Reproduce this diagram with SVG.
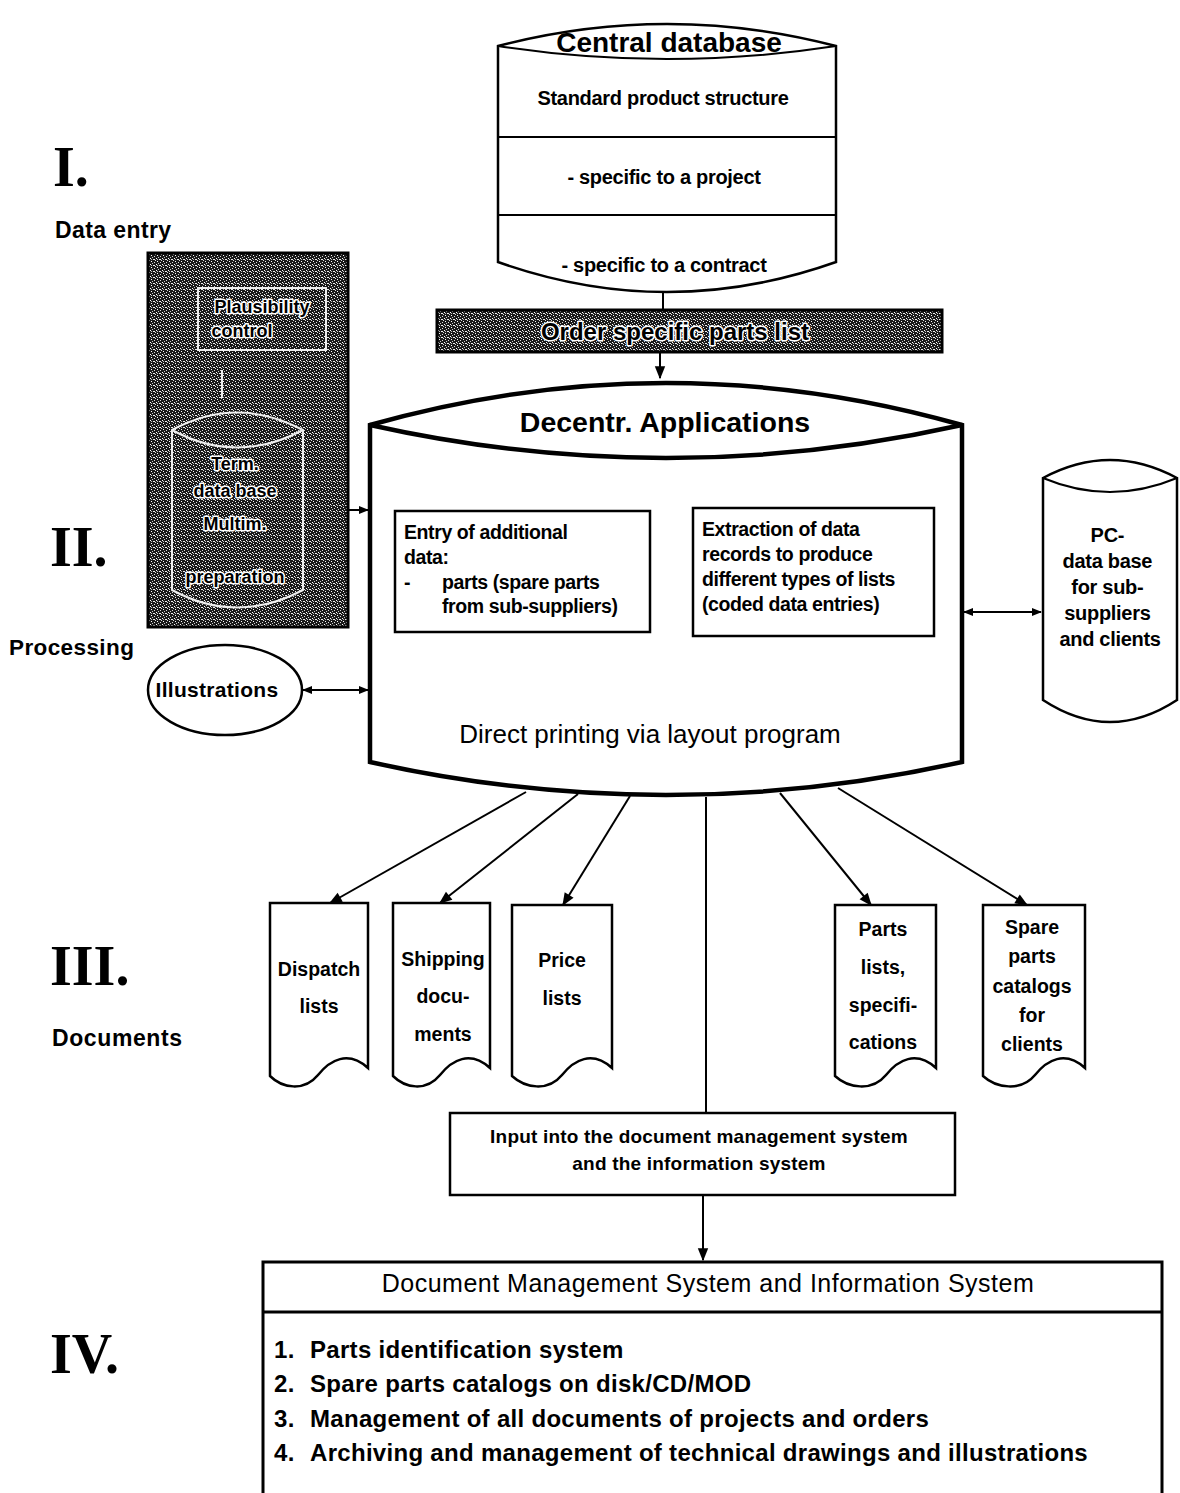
<svg xmlns="http://www.w3.org/2000/svg" width="1180" height="1493" viewBox="0 0 1180 1493">
  <style>
    .ln { fill: none; stroke: #000; stroke-width: 2; }
    .thick { fill: none; stroke: #000; stroke-width: 4.5; }
    .box { fill: #fff; stroke: #000; stroke-width: 2.5; }
    .t { font-family: "Liberation Sans", Arial, sans-serif; font-weight: bold; fill: #000; }
    .r { font-family: "Liberation Sans", Arial, sans-serif; fill: #000; }
    .c { text-anchor: middle; }
    .num { font-family: "Liberation Serif", "Times New Roman", serif; font-weight: bold; font-size: 56px; fill: #000; }
    .halo { paint-order: stroke; stroke: #fff; stroke-width: 3; stroke-linejoin: round; }
    .doc { font-size: 19.5px; }
  </style>
  <defs>
    <marker id="ah" viewBox="0 0 10 10" refX="9" refY="5" markerWidth="12" markerHeight="10" orient="auto-start-reverse" markerUnits="userSpaceOnUse">
      <path d="M0,1 L10,5 L0,9 z" fill="#000"/>
    </marker>
    <marker id="ahs" viewBox="0 0 10 10" refX="9" refY="5" markerWidth="16" markerHeight="13" orient="auto-start-reverse" markerUnits="userSpaceOnUse">
      <path d="M0,1 L10,5 L0,9 z" fill="#000"/>
    </marker>
    <!-- grainy halftone fill used by the shaded blocks -->
    <pattern id="grain" width="6" height="6" patternUnits="userSpaceOnUse">
      <rect width="6" height="6" fill="#1a1a1a"/>
      <rect x="0" y="0" width="1" height="1" fill="#fff"/>
      <rect x="3" y="1" width="2" height="1" fill="#eee"/>
      <rect x="1" y="3" width="1" height="1" fill="#fff"/>
      <rect x="4" y="4" width="1" height="1" fill="#ddd"/>
      <rect x="2" y="5" width="1" height="1" fill="#ccc"/>
      <rect x="5" y="2" width="1" height="1" fill="#ddd"/>
      <rect x="1" y="1" width="1" height="1" fill="#bbb"/>
    </pattern>
  </defs>

  <rect width="1180" height="1493" fill="#fff"/>

  <!-- level labels -->
  <g id="levels">
    <text class="num" x="53" y="186">I.</text>
    <text class="t" x="55" y="238" font-size="23" letter-spacing="0.4">Data entry</text>
    <text class="num" x="50" y="566">II.</text>
    <text class="t" x="9" y="655" font-size="22.5" letter-spacing="0.4">Processing</text>
    <text class="num" x="50" y="985">III.</text>
    <text class="t" x="52" y="1046" font-size="23" letter-spacing="0.6">Documents</text>
    <text class="num" x="50" y="1373">IV.</text>
  </g>

  <!-- connectors -->
  <g id="connectors">
    <line class="ln" x1="663" y1="292" x2="663" y2="311"/>
    <line class="ln" x1="660" y1="352" x2="660" y2="378" marker-end="url(#ahs)"/>
    <line class="ln" x1="305" y1="510" x2="368" y2="510" marker-end="url(#ah)"/>
    <line class="ln" x1="303" y1="690" x2="368" y2="690" marker-start="url(#ah)" marker-end="url(#ah)"/>
    <line class="ln" x1="964" y1="612" x2="1041" y2="612" marker-start="url(#ah)" marker-end="url(#ah)"/>
    <line class="ln" x1="526" y1="792" x2="330" y2="903" marker-end="url(#ahs)"/>
    <line class="ln" x1="578" y1="794" x2="440" y2="903" marker-end="url(#ahs)"/>
    <line class="ln" x1="630" y1="796" x2="563" y2="905" marker-end="url(#ahs)"/>
    <line class="ln" x1="706" y1="797" x2="706" y2="1114"/>
    <line class="ln" x1="780" y1="793" x2="871" y2="905" marker-end="url(#ahs)"/>
    <line class="ln" x1="838" y1="788" x2="1027" y2="905" marker-end="url(#ahs)"/>
    <line class="ln" x1="703" y1="1195" x2="703" y2="1260" marker-end="url(#ahs)"/>
  </g>

  <!-- central database -->
  <g id="central-db">
    <path class="box" d="M498,46 Q667,2 836,46 L836,262 Q667,322 498,262 Z"/>
    <path class="ln" d="M498,46 Q667,72 836,46"/>
    <line class="ln" x1="498" y1="137" x2="836" y2="137"/>
    <line class="ln" x1="498" y1="215" x2="836" y2="215"/>
    <text class="t c" x="669" y="52" font-size="28">Central database</text>
    <text class="t c" x="663" y="105" font-size="20" letter-spacing="-0.3">Standard product structure</text>
    <text class="t c" x="664" y="184" font-size="20" letter-spacing="-0.3">- specific to a project</text>
    <text class="t c" x="664" y="272" font-size="20" letter-spacing="-0.3">- specific to a contract</text>
  </g>

  <!-- order specific parts list -->
  <g id="parts-list-bar">
    <rect x="437" y="310" width="505" height="42" fill="url(#grain)" stroke="#000" stroke-width="3"/>
    <text class="t c halo" x="675" y="340" font-size="24">Order specific parts list</text>
  </g>

  <!-- data entry block -->
  <g id="data-entry">
    <rect x="148" y="253" width="200" height="374" fill="url(#grain)" stroke="#000" stroke-width="3"/>
    <rect x="198" y="288" width="128" height="62" fill="none" stroke="#eee" stroke-width="2"/>
    <text class="t c halo" x="262" y="313" font-size="18">Plausibility</text>
    <text class="t c halo" x="242" y="337" font-size="18">control</text>
    <line x1="222" y1="370" x2="222" y2="398" stroke="#eee" stroke-width="2"/>
    <path d="M172,430 Q237,395 303,430 L303,590 Q237,625 172,590 Z" fill="none" stroke="#eee" stroke-width="2"/>
    <path d="M172,430 Q237,465 303,430" fill="none" stroke="#eee" stroke-width="2"/>
    <text class="t c halo" x="235" y="470" font-size="18">Term.</text>
    <text class="t c halo" x="235" y="497" font-size="18">data base</text>
    <text class="t c halo" x="235" y="530" font-size="18">Multim.</text>
    <text class="t c halo" x="235" y="583" font-size="18">preparation</text>
  </g>

  <!-- decentralised applications -->
  <g id="decentr-apps">
    <path d="M370,425 Q666,341 962,425 L962,762 Q666,828 370,762 Z" fill="#fff" stroke="#000" stroke-width="4.5"/>
    <path class="thick" d="M370,425 Q666,491 962,425"/>
    <text class="t c" x="665" y="432" font-size="28.5">Decentr. Applications</text>
    <rect class="box" x="395" y="511" width="255" height="121"/>
    <text class="t" font-size="19.5" letter-spacing="-0.4">
      <tspan x="404" y="539">Entry of additional</tspan>
      <tspan x="404" y="564">data:</tspan>
      <tspan x="404" y="589">-</tspan>
      <tspan x="442" y="589">parts (spare parts</tspan>
      <tspan x="442" y="613">from sub-suppliers)</tspan>
    </text>
    <rect class="box" x="693" y="508" width="241" height="128"/>
    <text class="t" font-size="19.5" letter-spacing="-0.4">
      <tspan x="702" y="536">Extraction of data</tspan>
      <tspan x="702" y="561">records to produce</tspan>
      <tspan x="702" y="586">different types of lists</tspan>
      <tspan x="702" y="611">(coded data entries)</tspan>
    </text>
    <text class="r c" x="650" y="743" font-size="26">Direct printing via layout program</text>
  </g>

  <!-- illustrations -->
  <g id="illustrations">
    <ellipse cx="225" cy="690" rx="77" ry="45" fill="#fff" stroke="#000" stroke-width="2.5"/>
    <text class="t c" x="217" y="697" font-size="21" letter-spacing="0.3">Illustrations</text>
  </g>

  <!-- PC data base -->
  <g id="pc-db">
    <path class="box" d="M1043,478 Q1110,442 1177,478 L1177,700 Q1110,744 1043,700 Z"/>
    <path class="ln" d="M1043,478 Q1110,506 1177,478"/>
    <text class="t c" font-size="20" letter-spacing="-0.3">
      <tspan x="1110" y="542">PC-</tspan>
      <tspan x="1110" y="568">data base</tspan>
      <tspan x="1110" y="594">for sub-</tspan>
      <tspan x="1110" y="620">suppliers</tspan>
      <tspan x="1110" y="646">and clients</tspan>
    </text>
  </g>

  <!-- documents -->
  <g id="doc-dispatch">
    <path class="box" d="M270,903 L368,903 L368,1068 C348,1050 330,1060 318,1075 C304,1092 282,1088 270,1076 Z"/>
    <text class="t c doc"><tspan x="319" y="976">Dispatch</tspan><tspan x="319" y="1013">lists</tspan></text>
  </g>
  <g id="doc-shipping">
    <path class="box" d="M393,903 L490,903 L490,1068 C470,1050 452,1060 440,1075 C426,1092 405,1088 393,1076 Z"/>
    <text class="t c doc"><tspan x="443" y="966">Shipping</tspan><tspan x="443" y="1003">docu-</tspan><tspan x="443" y="1041">ments</tspan></text>
  </g>
  <g id="doc-price">
    <path class="box" d="M512,905 L612,905 L612,1068 C592,1050 574,1060 562,1075 C548,1092 525,1088 512,1076 Z"/>
    <text class="t c doc"><tspan x="562" y="967">Price</tspan><tspan x="562" y="1005">lists</tspan></text>
  </g>
  <g id="doc-parts">
    <path class="box" d="M835,905 L936,905 L936,1068 C916,1050 898,1060 886,1075 C872,1092 848,1088 835,1076 Z"/>
    <text class="t c doc"><tspan x="883" y="936">Parts</tspan><tspan x="883" y="974">lists,</tspan><tspan x="883" y="1012">specifi-</tspan><tspan x="883" y="1049">cations</tspan></text>
  </g>
  <g id="doc-spare">
    <path class="box" d="M983,905 L1085,905 L1085,1068 C1065,1050 1047,1060 1035,1075 C1021,1092 996,1088 983,1076 Z"/>
    <text class="t c doc"><tspan x="1032" y="934">Spare</tspan><tspan x="1032" y="963">parts</tspan><tspan x="1032" y="993">catalogs</tspan><tspan x="1032" y="1022">for</tspan><tspan x="1032" y="1051">clients</tspan></text>
  </g>

  <!-- input box -->
  <g id="input-box">
    <rect class="box" x="450" y="1113" width="505" height="82"/>
    <text class="t c" font-size="19" letter-spacing="0.2"><tspan x="699" y="1143">Input into the document management system</tspan><tspan x="699" y="1170">and the information system</tspan></text>
  </g>

  <!-- document management system -->
  <g id="dms">
    <path d="M263,1500 L263,1262 L1162,1262 L1162,1500" fill="#fff" stroke="#000" stroke-width="3"/>
    <line x1="263" y1="1312" x2="1162" y2="1312" stroke="#000" stroke-width="3"/>
    <text class="r c" x="708" y="1292" font-size="25" letter-spacing="0.5">Document Management System and Information System</text>
    <g class="t" font-size="24" letter-spacing="0.3">
      <text x="274" y="1358">1.</text><text x="310" y="1358">Parts identification system</text>
      <text x="274" y="1392">2.</text><text x="310" y="1392">Spare parts catalogs on disk/CD/MOD</text>
      <text x="274" y="1427">3.</text><text x="310" y="1427">Management of all documents of projects and orders</text>
      <text x="274" y="1461">4.</text><text x="310" y="1461">Archiving and management of technical drawings and illustrations</text>
    </g>
  </g>
</svg>
